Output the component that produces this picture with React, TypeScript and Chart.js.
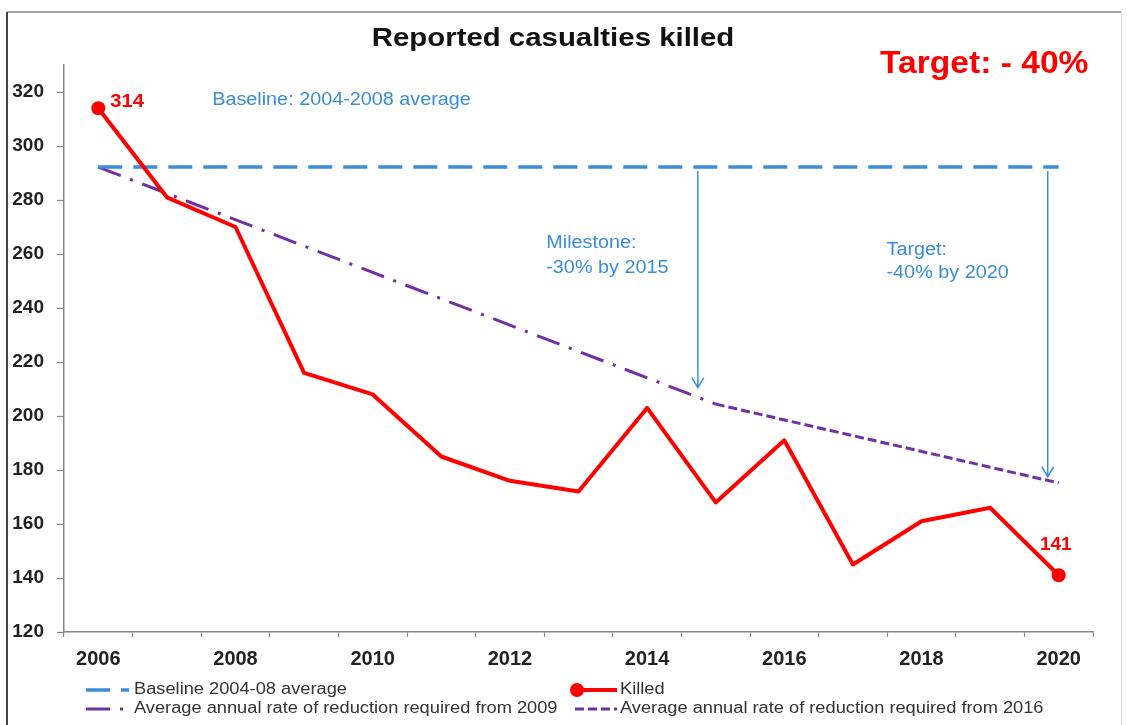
import React, { useEffect, useRef } from "react";
import { Chart, registerables } from "chart.js";

Chart.register(...registerables);

const FONT = '"Liberation Sans", Arial, Helvetica, sans-serif';

// ---- data ----
const years = ["2006", "2007", "2008", "2009", "2010", "2011", "2012", "2013", "2014", "2015", "2016", "2017", "2018", "2019", "2020"];
const xTickLabels = ["2006", "2008", "2010", "2012", "2014", "2016", "2018", "2020"];
const killed = [314, 281, 270, 216, 208, 185, 176, 172, 203, 168, 191, 145, 161, 166, 141];
const baseline = [292.2, null, null, null, null, null, null, null, null, null, null, null, null, null, 292.2];
const reduction2009 = [292.2, null, null, null, null, null, null, null, null, 204.4, null, null, null, null, null];
const reduction2016 = [null, null, null, null, null, null, null, null, null, 204.4, null, null, null, null, 175.2];
const yMin = 120;
const yMax = 330;
const yStep = 20;
// arrows: category position (fractional index) and arrow tip value
const arrowIndex = [8.74, 13.84];
const arrowTip = [210.5, 177.5];
const labelledPoints = [0, 14];

const RED = "#ff0000";
const BLUE = "#3a8dd6";
const PURPLE = "#7030a0";

function stretchText(
  ctx: CanvasRenderingContext2D,
  text: string,
  x: number,
  y: number,
  font: string,
  color: string,
  align: CanvasTextAlign,
  sx: number
) {
  ctx.save();
  ctx.font = font;
  ctx.fillStyle = color;
  ctx.textAlign = align;
  ctx.textBaseline = "middle";
  ctx.translate(x, y);
  ctx.scale(sx, 1);
  ctx.fillText(text, 0, 0);
  ctx.restore();
}

const overlay = {
  id: "overlay",
  beforeDraw(chart: any) {
    const ctx = chart.ctx;
    ctx.save();
    ctx.fillStyle = "#ffffff";
    ctx.fillRect(0, 0, chart.width, chart.height);
    ctx.restore();
  },
  afterDraw(chart: any) {
    const ctx: CanvasRenderingContext2D = chart.ctx;
    const xs = chart.scales.x;
    const ys = chart.scales.y;
    ctx.save();

    // frame
    ctx.strokeStyle = "#444";
    ctx.lineWidth = 2;
    ctx.beginPath();
    ctx.moveTo(7, 725);
    ctx.lineTo(7, 12);
    ctx.stroke();
    ctx.lineWidth = 1.2;
    ctx.beginPath();
    ctx.moveTo(7, 12);
    ctx.lineTo(1121, 12);
    ctx.stroke();
    ctx.strokeStyle = "#d8d8d8";
    ctx.lineWidth = 1;
    ctx.beginPath();
    ctx.moveTo(1121.5, 12);
    ctx.lineTo(1121.5, 725);
    ctx.stroke();

    // title
    stretchText(ctx, "Reported casualties killed", 553, 39, `bold 26px ${FONT}`, "#111", "center", 1.13);
    stretchText(ctx, "Target: - 40%", 880, 64, `bold 32px ${FONT}`, RED, "left", 1.05);

    // annotation texts
    const af = `18px ${FONT}`;
    const asx = 1.1;
    stretchText(ctx, "Baseline: 2004-2008 average", xs.getPixelForValue(1.66), ys.getPixelForValue(317), af, BLUE, "left", asx);
    stretchText(ctx, "Milestone:", xs.getPixelForValue(6.53), ys.getPixelForValue(264), af, BLUE, "left", asx);
    stretchText(ctx, "-30% by 2015", xs.getPixelForValue(6.53), ys.getPixelForValue(254.8), af, BLUE, "left", asx);
    stretchText(ctx, "Target:", xs.getPixelForValue(11.49), ys.getPixelForValue(261.5), af, BLUE, "left", asx);
    stretchText(ctx, "-40% by 2020", xs.getPixelForValue(11.49), ys.getPixelForValue(253), af, BLUE, "left", asx);

    // arrows
    ctx.strokeStyle = BLUE;
    ctx.lineWidth = 1.5;
    const baseY = ys.getPixelForValue(baseline[0] as number);
    arrowIndex.forEach((ix, i) => {
      const ax = xs.getPixelForValue(ix);
      const ty = ys.getPixelForValue(arrowTip[i]);
      ctx.beginPath();
      ctx.moveTo(ax, baseY + 4);
      ctx.lineTo(ax, ty);
      ctx.moveTo(ax - 6, ty - 10);
      ctx.lineTo(ax, ty);
      ctx.lineTo(ax + 6, ty - 10);
      ctx.stroke();
    });

    // data labels
    const meta = chart.getDatasetMeta(0);
    const p0 = meta.data[labelledPoints[0]];
    stretchText(ctx, String(killed[labelledPoints[0]]), p0.x + 12, p0.y - 6, `bold 18px ${FONT}`, RED, "left", 1.12);
    const p1 = meta.data[labelledPoints[1]];
    stretchText(ctx, String(killed[labelledPoints[1]]), p1.x - 3, p1.y - 30, `bold 18px ${FONT}`, RED, "center", 1.05);

    // legend
    const ds = chart.data.datasets;
    const items = [
      { d: ds[1], x: 86, y: 690, len: 43, text: ds[1].label, tx: 134, marker: false },
      { d: ds[0], x: 577, y: 690, len: 40, text: ds[0].label, tx: 620, marker: true },
      { d: ds[2], x: 86, y: 709, len: 43, text: ds[2].label, tx: 134, marker: false },
      { d: ds[3], x: 575, y: 709, len: 42, text: ds[3].label, tx: 620, marker: false },
    ];
    items.forEach((it) => {
      ctx.save();
      ctx.strokeStyle = it.d.borderColor;
      ctx.lineWidth = it.d.borderWidth;
      ctx.setLineDash(it.d.borderDash || []);
      ctx.beginPath();
      ctx.moveTo(it.x, it.y);
      ctx.lineTo(it.x + it.len, it.y);
      ctx.stroke();
      ctx.restore();
      if (it.marker) {
        ctx.fillStyle = it.d.borderColor;
        ctx.beginPath();
        ctx.arc(it.x, it.y, 7, 0, Math.PI * 2);
        ctx.fill();
      }
      stretchText(ctx, it.text, it.tx, it.y, `16px ${FONT}`, "#333", "left", 1.14);
    });

    ctx.restore();
  },
};

export default function App() {
  const ref = useRef<HTMLCanvasElement>(null);
  useEffect(() => {
    if (!ref.current) return;
    const radii = killed.map((_, i) => (labelledPoints.includes(i) ? 7 : 0));
    const chart = new Chart(ref.current, {
      type: "line",
      data: {
        labels: years,
        datasets: [
          {
            label: "Killed",
            data: killed,
            borderColor: RED,
            backgroundColor: RED,
            borderWidth: 4,
            pointRadius: radii,
            pointHoverRadius: radii,
            pointBackgroundColor: RED,
            pointBorderWidth: 0,
            borderJoinStyle: "round",
            tension: 0,
          },
          {
            label: "Baseline 2004-08 average",
            data: baseline,
            borderColor: BLUE,
            borderWidth: 3.5,
            borderDash: [24, 11],
            pointRadius: 0,
            spanGaps: true,
          },
          {
            label: "Average annual rate of reduction required from 2009",
            data: reduction2009,
            borderColor: PURPLE,
            borderWidth: 3,
            borderDash: [24, 10, 3, 10],
            pointRadius: 0,
            spanGaps: true,
          },
          {
            label: "Average annual rate of reduction required from 2016",
            data: reduction2016,
            borderColor: PURPLE,
            borderWidth: 3,
            borderDash: [9, 4],
            pointRadius: 0,
            spanGaps: true,
          },
        ] as any,
      },
      options: {
        animation: false,
        responsive: false,
        layout: { padding: { top: 65, right: 34, bottom: 0, left: 0 } },
        plugins: {
          legend: { display: false },
          title: { display: false },
          tooltip: { enabled: false },
        },
        scales: {
          x: {
            type: "category",
            offset: true,
            grid: {
              offset: true,
              drawOnChartArea: false,
              tickLength: 5,
              tickColor: "#888",
              tickWidth: 1.2,
            },
            border: { color: "#888", width: 1.5 },
            ticks: {
              autoSkip: false,
              maxRotation: 0,
              padding: 10,
              color: "#222",
              font: { family: FONT, size: 20, weight: "bold" },
              callback: (_v: any, i: number) => (xTickLabels.includes(years[i]) ? years[i] : ""),
            },
            afterFit: (s: any) => {
              s.height = 93;
            },
          },
          y: {
            min: yMin,
            max: yMax,
            grid: {
              drawOnChartArea: false,
              tickLength: 7,
              tickColor: "#888",
              tickWidth: 1.2,
            },
            border: { color: "#888", width: 1.5 },
            ticks: {
              stepSize: yStep,
              includeBounds: false,
              padding: 13,
              color: "#222",
              font: { family: FONT, size: 19, weight: "bold" },
            },
            afterFit: (s: any) => {
              s.width = 64;
            },
          },
        },
      } as any,
      plugins: [overlay],
    });
    return () => chart.destroy();
  }, []);
  return (
    <div style={{ position: "absolute", left: 0, top: 0, width: 1127, height: 725, background: "#fff" }}>
      <canvas ref={ref} width={1127} height={725} style={{ width: 1127, height: 725, display: "block" }} />
    </div>
  );
}
